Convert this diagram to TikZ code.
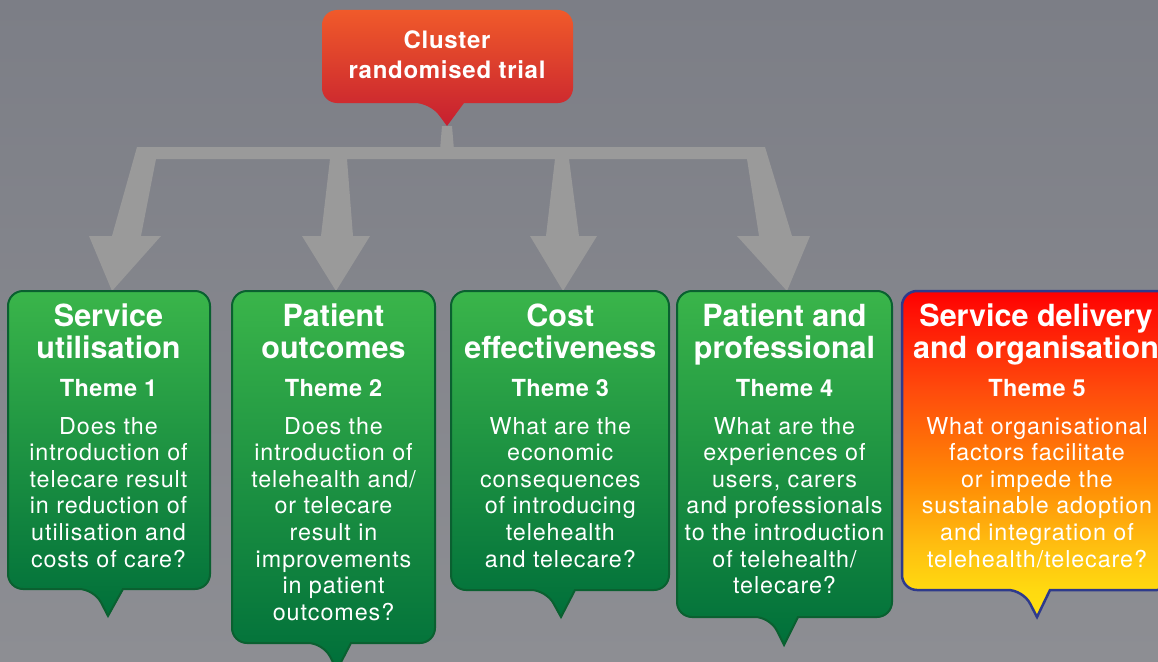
\documentclass[tikz,border=0pt]{standalone}
\usepackage{fontspec}
\setmainfont{TeX Gyre Heros}
\newfontfamily\bodyfont[LetterSpace=4]{TeX Gyre Heros}
\newfontfamily\themefont[LetterSpace=1.6]{TeX Gyre Heros}
\newfontfamily\topfont[LetterSpace=3]{TeX Gyre Heros}
\definecolor{bgtop}{HTML}{7C7E86}
\definecolor{bgbot}{HTML}{8D8E93}
\definecolor{arrowgray}{HTML}{9A9A9A}
\definecolor{grtop}{HTML}{3AB54A}
\definecolor{grbot}{HTML}{006F3A}
\definecolor{grline}{HTML}{0A6030}
\definecolor{redtop}{HTML}{F05A2A}
\definecolor{redbot}{HTML}{C61F30}
\definecolor{navyline}{HTML}{2E3A8C}
\definecolor{syel}{HTML}{FFE010}
\definecolor{syel2}{HTML}{FFDA10}
\definecolor{syel3}{HTML}{FFBE10}
\definecolor{sorg}{HTML}{FF8A05}
\definecolor{sorg2}{HTML}{FF4A0C}
\definecolor{sred2}{HTML}{FF1005}
\definecolor{sred}{HTML}{FF0000}
\pgfdeclareverticalshading{themefive}{100bp}{color(0bp)=(syel); color(25bp)=(syel); color(29bp)=(syel2); color(36bp)=(syel3); color(46bp)=(sorg); color(60bp)=(sorg2); color(72bp)=(sred2); color(75bp)=(sred); color(100bp)=(sred)}
% #1 style, #2 left, #3 top, #4 right, #5 bottom, #6 pointer left, #7 pointer right, #8 apex x, #9 apex y
\newcommand\bubble[9]{\shadedraw[#1,rounded corners=15pt] (#7,#5) -- (#4,#5) -- (#4,#3) -- (#2,#3) -- (#2,#5) -- (#6,#5) [sharp corners] -- (#8,#9) -- cycle;}
\tikzset{
  greenbox/.style={draw=grline, line width=2pt, top color=grtop, bottom color=grbot},
  redbox/.style={draw=none, top color=redtop, bottom color=redbot},
  fivebox/.style={draw=navyline, line width=2.5pt, shading=themefive},
  ttl/.style={font=\bfseries\fontsize{30.5}{32}\selectfont, align=center, text=white, anchor=north, inner sep=0pt, execute at begin node={\rule{0pt}{28pt}}},
  thm/.style={font=\themefont\bfseries\fontsize{23.5}{26}\selectfont, align=center, text=white, anchor=base, inner sep=0pt},
  bdy/.style={font=\bodyfont\fontsize{23.3}{26.6}\selectfont, align=center, text=white, anchor=north, inner sep=0pt, execute at begin node={\rule{0pt}{20pt}}},
  toptxt/.style={font=\topfont\bfseries\fontsize{24}{30}\selectfont, align=center, text=white, anchor=north, inner sep=0pt, execute at begin node={\rule{0pt}{22pt}}},
}
\begin{document}
\begin{tikzpicture}[x=1pt,y=-1pt]
\useasboundingbox (0,0) rectangle (1158,661);
\clip (0,0) rectangle (1158,661);
\shade[top color=bgtop, bottom color=bgbot] (0,0) rectangle (1158,661);
% gray connector arrows
\fill[arrowgray] (442,126) -- (452,126) -- (454,150) -- (440,150) -- cycle;
\fill[arrowgray] (137,147) -- (765,147) -- (792,236) -- (810,236) -- (787,291) -- (737,236) -- (759,236) -- (747,159)
  -- (569,159) -- (579,236) -- (597,236) -- (563,291) -- (530,236) -- (546,236) -- (555,159)
  -- (347,159) -- (353,236) -- (370,236) -- (336,291) -- (302,236) -- (321,236) -- (330,159)
  -- (156,159) -- (141,236) -- (161,236) -- (112,291) -- (89,236) -- (112,236) -- cycle;
% top box
\bubble{redbox}{322}{10}{573}{103}{430}{464}{447}{126}
\node[toptxt] (trial) at (447,31) {Cluster\\randomised trial};
% theme boxes
\bubble{greenbox}{8}{291}{210}{589}{94}{123}{108}{616}
\bubble{greenbox}{232}{291}{435}{643}{323}{351}{337}{670}
\bubble{greenbox}{451}{291}{669}{590}{546}{575}{561}{617}
\bubble{greenbox}{677}{291}{892}{617}{770}{798}{784}{645}
\bubble{fivebox}{902}{291}{1172}{590}{1023}{1050}{1037}{617}
% texts
\node[ttl] (t1) at (108.5,304) {Service\\utilisation};
\node[thm] (h1) at (108.5,396) {Theme 1};
\node[bdy] (b1) at (108.5,417) {Does the\\introduction of\\telecare result\\in reduction of\\utilisation and\\costs of care?};
\node[ttl] (t2) at (333.5,304) {Patient\\outcomes};
\node[thm] (h2) at (333.5,396) {Theme 2};
\node[bdy] (b2) at (333.5,417) {Does the\\introduction of\\telehealth and/\\or telecare\\result in\\improvements\\in patient\\outcomes?};
\node[ttl] (t3) at (560.3,304) {Cost\\effectiveness};
\node[thm] (h3) at (560.3,396) {Theme 3};
\node[bdy] (b3) at (560.3,417) {What are the\\economic\\consequences\\of introducing\\telehealth\\and telecare?};
\node[ttl] (t4) at (784.5,304) {Patient and\\professional};
\node[thm] (h4) at (784.5,396) {Theme 4};
\node[bdy] (b4) at (784.5,417) {What are the\\experiences of\\users, carers\\and professionals\\to the introduction\\of telehealth/\\telecare?};
\node[ttl] (t5) at (1036,304) {Service delivery\\and organisation};
\node[thm] (h5) at (1037,396) {Theme 5};
\node[bdy] (b5) at (1037,417) {What organisational\\factors facilitate\\or impede the\\sustainable adoption\\and integration of\\telehealth/telecare?};
\end{tikzpicture}
\end{document}
